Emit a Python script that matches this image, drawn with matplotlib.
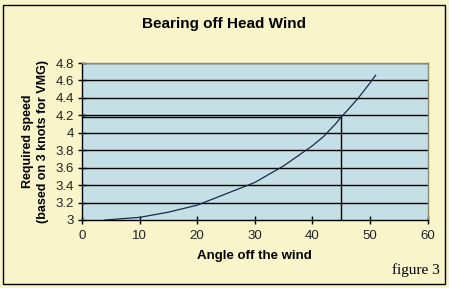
import matplotlib
matplotlib.use("Agg")
import matplotlib.pyplot as plt
from matplotlib.patches import Rectangle

# data
angles = [4, 10, 15, 20, 25, 30, 35, 40, 42, 44, 45, 46, 48, 50, 51]
speeds = [3.00, 3.03, 3.09, 3.17, 3.30, 3.43, 3.62, 3.85, 3.96, 4.10, 4.18, 4.25, 4.40, 4.57, 4.66]
mark_angle = 45
mark_speed = 4.18
xticks = [0, 10, 20, 30, 40, 50, 60]
yticks = [3, 3.2, 3.4, 3.6, 3.8, 4, 4.2, 4.4, 4.6, 4.8]
ytick_labels = ["3", "3.2", "3.4", "3.6", "3.8", "4", "4.2", "4.4", "4.6", "4.8"]

plt.rcParams['font.family'] = ['Liberation Sans', 'DejaVu Sans']

fig = plt.figure(figsize=(4.49, 2.88), dpi=100)
fig.patch.set_facecolor("#f9f4c9")
# outer border
fig.patches.append(Rectangle((3/449, 4/288), 442/449, 279/288, transform=fig.transFigure,
                             fill=False, edgecolor="black", linewidth=1.0))

ax = fig.add_axes([82/449, 68/288, 345.5/449, 157/288])
ax.set_facecolor("#c5dfe6")

for y in yticks[1:]:
    ax.axhline(y, color="black", linewidth=1.0, zorder=1)

ax.plot(angles, speeds, color="#1a2a4a", linewidth=0.9, zorder=3)
# marker lines at 45 degrees
ax.plot([0, mark_angle], [mark_speed, mark_speed], color="black", linewidth=1.0, zorder=2)
ax.plot([mark_angle, mark_angle], [3, mark_speed], color="black", linewidth=1.0, zorder=2)

ax.set_xlim(0, 60)
ax.set_ylim(3, 4.8)
ax.set_xticks(xticks)
ax.set_yticks(yticks)
ax.set_yticklabels(ytick_labels)
ax.tick_params(axis="both", direction="inout", length=6, width=1, color="black",
               labelsize=9.5, labelcolor="#222222")
ax.tick_params(axis="y", pad=3)
ax.tick_params(axis="x", pad=4)

for s in ["left", "bottom"]:
    ax.spines[s].set_color("black")
    ax.spines[s].set_linewidth(1.0)
for s in ["top", "right"]:
    ax.spines[s].set_color("#8a8a70")
    ax.spines[s].set_linewidth(1.0)

ax.set_xlabel("Angle off the wind", fontsize=9.5, fontweight="bold", labelpad=6)
ax.set_ylabel("Required speed\n(based on 3 knots for VMG)", fontsize=9,
              fontweight="bold", linespacing=1.3)
ax.yaxis.set_label_coords(-0.095, 0.5)

fig.text(224/449, 1 - 24/288, "Bearing off Head Wind", ha="center", va="center",
         fontsize=11, fontweight="bold")
fig.text(440/449, 1 - 270/288, "figure 3", ha="right", va="center",
         fontsize=11, family=["Liberation Serif", "DejaVu Serif"])

fig.savefig("out.png", dpi=100, facecolor=fig.get_facecolor())
